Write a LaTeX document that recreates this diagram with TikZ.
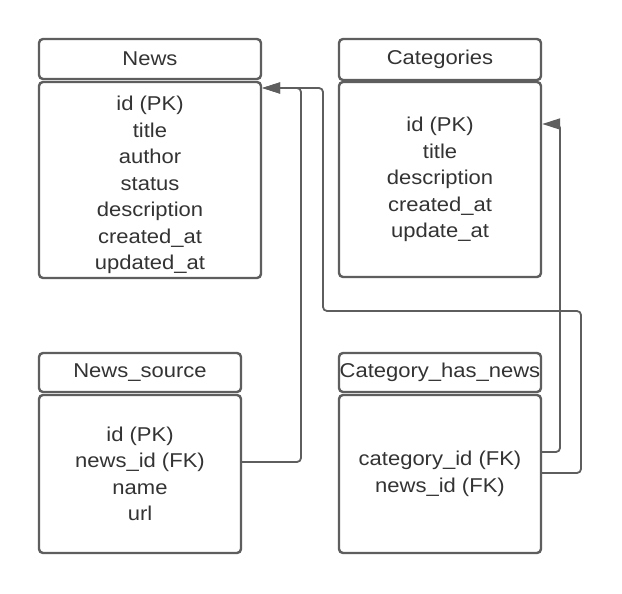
\documentclass[tikz,border=0pt]{standalone}
\usepackage{fontspec}
\setmainfont{Liberation Sans}[FakeStretch=1.1]
\usetikzlibrary{arrows.meta}
\definecolor{boxline}{HTML}{5E5E5E}
\definecolor{txt}{HTML}{333333}
\begin{document}
\begin{tikzpicture}[x=1pt,y=-1pt,
  tbl/.style={draw=boxline, line width=2.4pt, rounded corners=4pt, inner sep=0pt,
    text=txt, align=center, font=\fontsize{20}{26.5}\selectfont},
  fields/.style={inner sep=0pt, text=txt, align=center, font=\fontsize{20}{26.5}\selectfont},
  link/.style={draw=boxline, line width=1.8pt, rounded corners=4pt},
  tip/.style={-{Triangle[length=18pt,width=11pt]}}]
\useasboundingbox (0,0) rectangle (622,594);
\fill[white] (0,0) rectangle (622,594);
% News
\node[tbl, minimum width=222pt, minimum height=40pt] (newsh) at (150,59) {News};
\node[tbl, minimum width=222pt, minimum height=196pt] (newsb) at (150,180) {};
\node[fields] (newst) at (150,185)
  {id (PK)\\title\\author\\status\\description\\created\_at\\updated\_at};
% Categories
\node[tbl, minimum width=202pt, minimum height=41pt] (cath) at (440,59.5) {Categories};
\node[tbl, minimum width=202pt, minimum height=195pt] (catb) at (440,179.5)
  {id (PK)\\title\\description\\created\_at\\update\_at};
% News_source
\node[tbl, minimum width=202pt, minimum height=39pt] (nsh) at (140,372.5) {News\_source};
\node[tbl, minimum width=202pt, minimum height=158pt] (nsb) at (140,474)
  {id (PK)\\news\_id (FK)\\name\\url};
% Category_has_news
\node[tbl, minimum width=202pt, minimum height=39pt] (chnh) at (440,372.5) {Category\_has\_news};
\node[tbl, minimum width=202pt, minimum height=158pt] (chnb) at (440,474)
  {category\_id (FK)\\news\_id (FK)};
% connectors
\coordinate (newsin) at (newsb.east |- 0,88);
\coordinate (catin) at (catb.east |- 0,124);
\draw[link, tip] (nsb.east |- 0,462) -- (301,462) -- (301,88) -- (newsin);
\draw[link, tip] (chnb.east |- 0,473) -- (581,473) -- (581,311) -- (323,311) -- (323,88) -- (newsin);
\draw[link, tip] (chnb.east |- 0,452) -- (560,452) -- (560,124) -- (catin);
\end{tikzpicture}
\end{document}
